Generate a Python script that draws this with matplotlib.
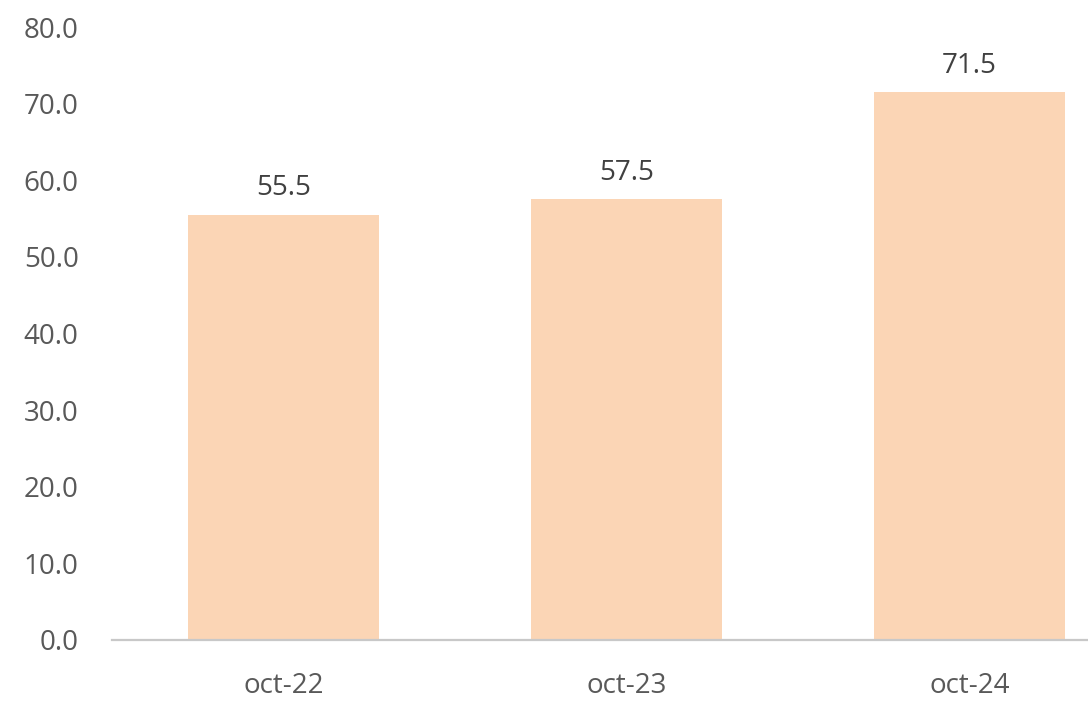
import matplotlib
matplotlib.use("Agg")
import matplotlib.pyplot as plt

categories = ["oct-22", "oct-23", "oct-24"]
values = [55.5, 57.5, 71.5]
yticks = [0, 10, 20, 30, 40, 50, 60, 70, 80]

plt.rcParams['font.family'] = ['Open Sans', 'DejaVu Sans']

fig = plt.figure(figsize=(10.88, 7.28), dpi=100)
ax = fig.add_axes([112/1088, 88/728, 1 - 112/1088, (640-27)/728])

x = list(range(len(categories)))
ax.bar(x, values, width=0.555, color="#FBD5B5", zorder=2)
for xi, v in zip(x, values):
    ax.annotate(f"{v:.1f}", (xi, v), xytext=(0, 9), textcoords="offset points",
                ha="center", va="bottom", fontsize=20, color="#404040")

ax.set_xlim(-0.5, (1088-112)/343 - 0.5)
ax.set_ylim(0, 80)
ax.set_yticks(yticks)
ax.set_yticklabels([f"{t:.1f}" for t in yticks])
ax.set_xticks(x)
ax.set_xticklabels(categories)
ax.tick_params(axis="y", length=0, pad=24, labelsize=20, labelcolor="#595959")
ax.tick_params(axis="x", length=0, pad=23, labelsize=20, labelcolor="#595959")
for s in ["top", "right", "left"]:
    ax.spines[s].set_visible(False)
ax.spines["bottom"].set_color("#C8C8C8")
ax.spines["bottom"].set_linewidth(1.6)
ax.spines["bottom"].set_zorder(3)

fig.savefig("out.png", dpi=100)
